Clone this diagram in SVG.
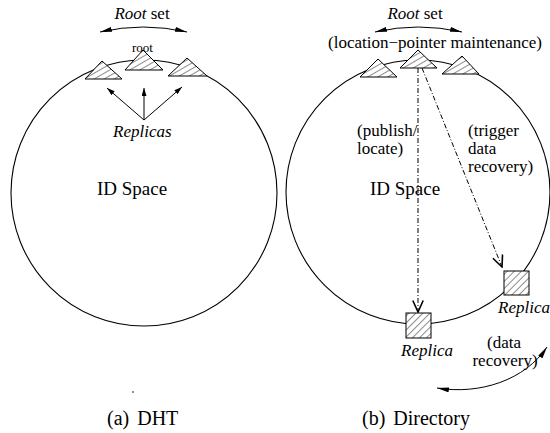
<svg xmlns="http://www.w3.org/2000/svg" width="550" height="433" viewBox="0 0 550 433" font-family="'Liberation Serif', 'DejaVu Serif', serif">
  <style>
    text { font-family: "Liberation Serif", "DejaVu Serif", serif; fill: #000; }
    .it { font-style: italic; }
    .ring { fill: none; stroke: #000; stroke-width: 1.1; }
    .tri { fill: url(#hatchTri); stroke: #000; stroke-width: 1; stroke-linejoin: miter; }
    .box { fill: url(#hatchBox); stroke: #000; stroke-width: 1; }
    .arc { fill: none; stroke: #000; stroke-width: 1; }
    .ptr { fill: none; stroke: #000; stroke-width: 1; }
    .dd { fill: none; stroke: #000; stroke-width: 1; stroke-dasharray: 5 2 1 2; }
  </style>
  <defs>
    <!-- shallow "/" hatching for the root-set triangles -->
    <pattern id="hatchTri" width="5" height="5" patternUnits="userSpaceOnUse" patternTransform="rotate(60)">
      <rect width="5" height="5" fill="#fff"/>
      <line x1="0" y1="0" x2="0" y2="5" stroke="#000" stroke-width="0.9"/>
    </pattern>
    <!-- 45 degree "/" hatching for the replica boxes -->
    <pattern id="hatchBox" width="5" height="5" patternUnits="userSpaceOnUse" patternTransform="rotate(45)">
      <rect width="5" height="5" fill="#fff"/>
      <line x1="0" y1="0" x2="0" y2="5" stroke="#000" stroke-width="0.9"/>
    </pattern>
    <marker id="head" viewBox="0 0 12 5" refX="12" refY="2.5" markerWidth="12" markerHeight="5" markerUnits="userSpaceOnUse" orient="auto-start-reverse">
      <path d="M0,0 L12,2.5 L0,5 z" fill="#000"/>
    </marker>
    <marker id="small" viewBox="0 0 8 5" refX="8" refY="2.5" markerWidth="8" markerHeight="5" markerUnits="userSpaceOnUse" orient="auto">
      <path d="M0,0 L8,2.5 L0,5 z" fill="#000"/>
    </marker>
    <marker id="open" viewBox="0 0 13 12" refX="12" refY="6" markerWidth="13" markerHeight="12" markerUnits="userSpaceOnUse" orient="auto">
      <path d="M0.5,0.8 L12,6 L0.5,11.2" fill="none" stroke="#000" stroke-width="1.6"/>
    </marker>
  </defs>

  <!-- (a) DHT -->
  <g id="dht-space">
    <circle class="ring" cx="144" cy="193" r="133"/>
    <text x="97" y="195" font-size="19">ID Space</text>
  </g>
  <g id="dht-root-set">
    <text x="142" y="19" font-size="17" text-anchor="middle"><tspan class="it">Root</tspan> set</text>
  </g>
  <g id="dht-replica-1"><polygon class="tri" points="85,79 122,79 102,61"/></g>
  <g id="dht-root">
    <polygon class="tri" points="125,70 163,70 143,50"/>
    <text x="132" y="52" font-size="13">root</text>
  </g>
  <g id="dht-replica-2"><polygon class="tri" points="168,76 207,76 187,58"/></g>
  <g id="dht-replicas-label">
    <text class="it" x="113" y="137" font-size="17">Replicas</text>
  </g>
  <g id="dht-caption">
    <circle cx="133" cy="392" r="0.8" fill="#000"/>
    <text x="107" y="425" font-size="20">(a)<tspan dx="8">DHT</tspan></text>
  </g>

  <!-- (b) Directory -->
  <g id="dir-space">
    <circle class="ring" cx="418" cy="192" r="132"/>
    <text x="370" y="195" font-size="19">ID Space</text>
  </g>
  <g id="dir-root-set">
    <text x="415" y="19" font-size="17" text-anchor="middle"><tspan class="it">Root</tspan> set</text>
    <text x="328" y="48" font-size="17">(location−pointer maintenance)</text>
  </g>
  <g id="dir-pointer-1"><polygon class="tri" points="360,77 397,77 378,59"/></g>
  <g id="dir-root"><polygon class="tri" points="400,68 437,68 418,50"/></g>
  <g id="dir-pointer-2"><polygon class="tri" points="442,74 479,74 462,56"/></g>
  <g id="dir-replica-bottom">
    <rect class="box" x="406" y="313" width="25" height="25"/>
    <text class="it" x="401" y="356" font-size="17">Replica</text>
  </g>
  <g id="dir-replica-right">
    <rect class="box" x="504" y="271" width="25" height="24"/>
    <text class="it" x="498" y="313" font-size="17">Replica</text>
  </g>
  <g id="dir-labels">
    <text x="357" y="136" font-size="17">(publish/</text>
    <text x="357" y="154" font-size="17">locate)</text>
    <text x="468" y="136" font-size="17">(trigger</text>
    <text x="468" y="154" font-size="17">data</text>
    <text x="468" y="172" font-size="17">recovery)</text>
    <text x="504" y="348" font-size="17" text-anchor="middle">(data</text>
    <text x="505" y="366" font-size="17" text-anchor="middle">recovery)</text>
  </g>
  <g id="dir-caption">
    <text x="362" y="425" font-size="20">(b)<tspan dx="8">Directory</tspan></text>
  </g>

  <!-- connectors -->
  <g id="connectors">
    <path class="arc" d="M100,32 Q143,22 187,32" marker-start="url(#head)" marker-end="url(#head)"/>
    <path class="ptr" d="M144,120 L107,88" marker-end="url(#small)"/>
    <path class="ptr" d="M144,120 L144,88" marker-end="url(#small)"/>
    <path class="ptr" d="M144,120 L182,87" marker-end="url(#small)"/>

    <path class="arc" d="M375,32 Q418,22 462,32" marker-start="url(#head)" marker-end="url(#head)"/>
    <path class="dd" d="M418,68 L418,312" marker-end="url(#open)"/>
    <path class="dd" d="M422,68 L502,267" marker-end="url(#open)"/>
    <path class="arc" d="M437,388 C480,395 525,380 547,347" marker-start="url(#head)" marker-end="url(#head)"/>
  </g>
</svg>
